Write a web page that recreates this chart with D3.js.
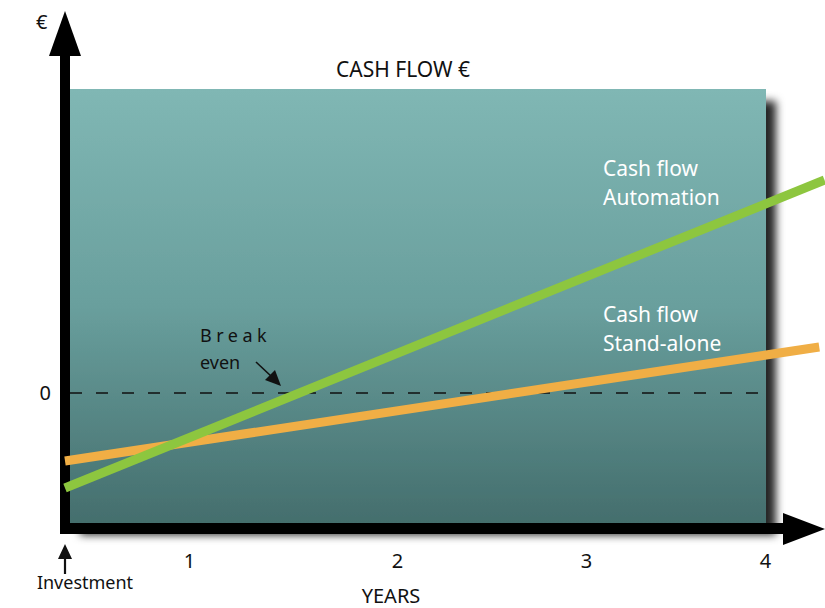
<!DOCTYPE html>
<html>
<head>
<meta charset="utf-8">
<script src="https://cdn.jsdelivr.net/npm/d3@7"></script>
<style>
  body { margin: 0; background: #fff; }
  svg { display: block; font-family: "Noto Sans", sans-serif; }
</style>
</head>
<body>
<div id="chart"></div>
<script>
// years shown on the axis
var years = [1, 2, 3, 4];
var yearLabels = ["1", "2", "3", "4"];
var zeroTick = [0];

// cash flow lines (year, value in arbitrary € units)
var automation = [{ year: 0, value: -0.95 }, { year: 4.34, value: 2.13 }];
var standAlone = [{ year: 0, value: -0.68 }, { year: 4.31, value: 0.46 }];

function init() {
    var w = 825;
    var h = 608;

    var svg = d3.select("#chart")
                .append("svg")
                .attr("width", w)
                .attr("height", h);

    var plot = { left: 70, right: 766, top: 89, bottom: 523 };

    var xScale = d3.scaleLinear()
                   .domain([0, 4])
                   .range([65, 765]);

    // tick labels in the picture are not evenly spaced
    var xTickScale = d3.scaleLinear()
                       .domain([0, 1, 2, 3, 4])
                       .range([65, 189, 397, 586, 765]);

    var yScale = d3.scaleLinear()
                   .domain([-1.3, 3.04])
                   .range([plot.bottom, plot.top]);

    var defs = svg.append("defs");
    var grad = defs.append("linearGradient")
                   .attr("id", "bg")
                   .attr("x1", 0).attr("y1", 0)
                   .attr("x2", 0).attr("y2", 1);
    grad.append("stop").attr("offset", "0%").attr("stop-color", "#80b7b4");
    grad.append("stop").attr("offset", "50%").attr("stop-color", "#699f9d");
    grad.append("stop").attr("offset", "100%").attr("stop-color", "#446e6d");

    var shadow = defs.append("filter")
                     .attr("id", "shadow")
                     .attr("x", "-10%").attr("y", "-10%")
                     .attr("width", "130%").attr("height", "130%");
    shadow.append("feDropShadow")
          .attr("dx", 10).attr("dy", 12)
          .attr("stdDeviation", 4)
          .attr("flood-color", "#000")
          .attr("flood-opacity", 0.85);

    // background panel
    svg.append("rect")
       .attr("x", plot.left)
       .attr("y", plot.top)
       .attr("width", plot.right - plot.left)
       .attr("height", plot.bottom - plot.top)
       .attr("fill", "url(#bg)")
       .attr("filter", "url(#shadow)");

    // zero line
    svg.append("line")
       .attr("x1", plot.left)
       .attr("x2", plot.right)
       .attr("y1", yScale(0))
       .attr("y2", yScale(0))
       .attr("stroke", "#111")
       .attr("stroke-width", 1.4)
       .attr("stroke-dasharray", "12,14");

    // thick axes with arrow heads
    svg.append("rect")
       .attr("x", 60).attr("y", 50)
       .attr("width", 10).attr("height", 484)
       .attr("fill", "#000");
    svg.append("polygon")
       .attr("points", "49,56 81,56 65,11")
       .attr("fill", "#000");
    svg.append("rect")
       .attr("x", 60).attr("y", 523)
       .attr("width", 728).attr("height", 11)
       .attr("fill", "#000");
    svg.append("polygon")
       .attr("points", "783,513 783,545 825,529")
       .attr("fill", "#000");

    // x tick labels
    var xAxis = d3.axisBottom(xTickScale)
                  .tickValues(years)
                  .tickFormat(function(d, i) { return yearLabels[i]; })
                  .tickSize(0)
                  .tickPadding(20);
    var gx = svg.append("g")
                .attr("transform", "translate(0,534)")
                .call(xAxis);
    gx.select(".domain").remove();
    gx.selectAll("text")
      .attr("font-size", 20)
      .attr("font-family", "Noto Sans, sans-serif")
      .attr("fill", "#111");

    // y zero label
    var yAxis = d3.axisLeft(yScale)
                  .tickValues(zeroTick)
                  .tickFormat(d3.format("d"))
                  .tickSize(0)
                  .tickPadding(9);
    var gy = svg.append("g")
                .attr("transform", "translate(60,0)")
                .call(yAxis);
    gy.select(".domain").remove();
    gy.selectAll("text")
      .attr("font-size", 20)
      .attr("font-family", "Noto Sans, sans-serif")
      .attr("fill", "#111");

    // cash flow lines
    var line = d3.line()
                 .x(function(d) { return xScale(d.year); })
                 .y(function(d) { return yScale(d.value); });

    svg.append("path")
       .datum(standAlone)
       .attr("d", line)
       .attr("fill", "none")
       .attr("stroke", "#f0ae45")
       .attr("stroke-width", 9);

    svg.append("path")
       .datum(automation)
       .attr("d", line)
       .attr("fill", "none")
       .attr("stroke", "#8dc63f")
       .attr("stroke-width", 9);

    // texts
    svg.append("text")
       .attr("x", 36).attr("y", 29)
       .attr("font-size", 20)
       .attr("fill", "#111")
       .text("€");

    svg.append("text")
       .attr("x", 403).attr("y", 77)
       .attr("text-anchor", "middle")
       .attr("font-size", 21)
       .attr("fill", "#111")
       .text("CASH FLOW €");

    var labels = [
        { t: "Cash flow", y: 176 },
        { t: "Automation", y: 205 },
        { t: "Cash flow", y: 322 },
        { t: "Stand-alone", y: 351 }
    ];
    svg.selectAll(".serieslabel")
       .data(labels)
       .enter()
       .append("text")
       .attr("class", "serieslabel")
       .attr("x", 603)
       .attr("y", function(d) { return d.y; })
       .attr("font-size", 21)
       .attr("fill", "#fff")
       .text(function(d) { return d.t; });

    svg.append("text")
       .attr("x", 200).attr("y", 342)
       .attr("font-size", 18)
       .attr("letter-spacing", 4.5)
       .attr("fill", "#111")
       .text("Break");
    svg.append("text")
       .attr("x", 200).attr("y", 369)
       .attr("font-size", 18)
       .attr("fill", "#111")
       .text("even");

    // break even arrow
    svg.append("line")
       .attr("x1", 256).attr("y1", 362)
       .attr("x2", 272).attr("y2", 377)
       .attr("stroke", "#111")
       .attr("stroke-width", 1.6);
    svg.append("polygon")
       .attr("points", "281,386 265,380 275,370")
       .attr("fill", "#111");

    // investment arrow
    svg.append("line")
       .attr("x1", 65).attr("y1", 574)
       .attr("x2", 65).attr("y2", 556)
       .attr("stroke", "#111")
       .attr("stroke-width", 2.2);
    svg.append("polygon")
       .attr("points", "58,559 72,559 65,544")
       .attr("fill", "#111");
    svg.append("text")
       .attr("x", 85).attr("y", 589)
       .attr("text-anchor", "middle")
       .attr("font-size", 18)
       .attr("fill", "#111")
       .text("Investment");

    svg.append("text")
       .attr("x", 391).attr("y", 603)
       .attr("text-anchor", "middle")
       .attr("font-size", 20)
       .attr("fill", "#111")
       .text("YEARS");
}

window.onload = init;
</script>
</body>
</html>
